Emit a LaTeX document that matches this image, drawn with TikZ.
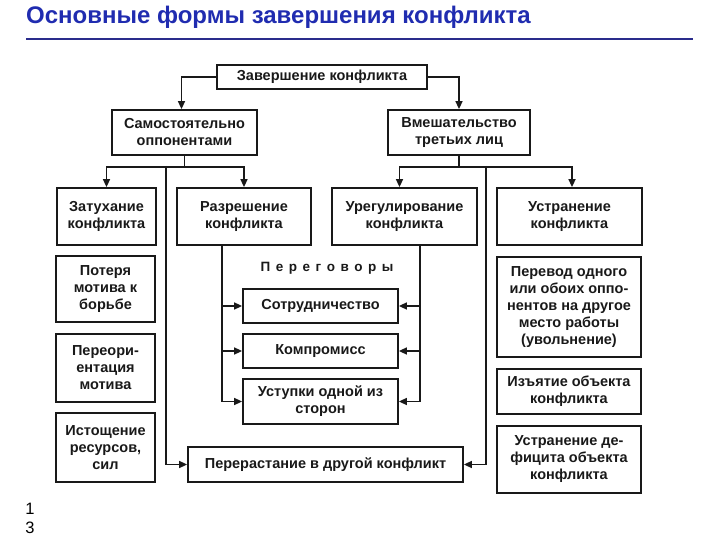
\documentclass[tikz,border=0pt]{standalone}
\usepackage{fontspec}
\setmainfont{Liberation Sans}
\usetikzlibrary{arrows.meta,calc}
\definecolor{titleblue}{RGB}{32,44,176}
\definecolor{ruleblue}{RGB}{42,44,140}
\definecolor{ink}{RGB}{25,25,25}
\tikzset{
  box/.style={draw=ink, line width=1.8pt, align=center, inner sep=1pt,
    font=\bfseries\fontsize{14.5}{17}\selectfont, text=ink},
  conn/.style={draw=ink, line width=1.6pt},
  arr/.style={conn, -{Triangle[length=8pt,width=7pt]}},
}
\begin{document}
\begin{tikzpicture}[x=1pt,y=-1pt]
\useasboundingbox (0,0) rectangle (720,540);
% title
\node[anchor=base west, inner sep=0pt, text=titleblue,
  font=\bfseries\fontsize{24}{28}\selectfont] (title) at (26,24) {Основные формы завершения конфликта};
\draw[ruleblue, line width=2.5pt] (26,39) coordinate (r1) -- (693,39) coordinate (r2);
% boxes
\node[box, minimum width=210pt, minimum height=24pt] (top) at (322,77) {Завершение конфликта};
\node[box, minimum width=145pt, minimum height=45pt] (sam) at (184.5,132.5) {Самостоятельно\\оппонентами};
\node[box, minimum width=142pt, minimum height=45pt] (vme) at (459,132.5) {Вмешательство\\третьих лиц};
\node[box, minimum width=99pt, minimum height=57pt] (zat) at (106.5,216.5) {Затухание\\конфликта};
\node[box, minimum width=134pt, minimum height=57pt] (raz) at (244,216.5) {Разрешение\\конфликта};
\node[box, minimum width=145pt, minimum height=57pt] (ure) at (404.5,216.5) {Урегулирование\\конфликта};
\node[box, minimum width=145pt, minimum height=57pt] (ust) at (569.5,216.5) {Устранение\\конфликта};
\node[box, minimum width=99pt, minimum height=66pt] (pot) at (105.5,289) {Потеря\\мотива к\\борьбе};
\node[box, minimum width=99pt, minimum height=68pt] (per) at (105.5,368) {Переори-\\ентация\\мотива};
\node[box, minimum width=99pt, minimum height=69pt] (ist) at (105.5,447.5) {Истощение\\ресурсов,\\сил};
\node[box, minimum width=155pt, minimum height=34pt] (sot) at (320.5,306) {Сотрудничество};
\node[box, minimum width=155pt, minimum height=34pt] (kom) at (320.5,351) {Компромисс};
\node[box, minimum width=155pt, minimum height=45pt] (usu) at (320.5,401.5) {Уступки одной из\\сторон};
\node[box, minimum width=275pt, minimum height=35pt] (prr) at (325.5,464.5) {Перерастание в другой конфликт};
\node[box, minimum width=144pt, minimum height=100pt] (pev) at (569,307) {Перевод одного\\или обоих оппо-\\нентов на другое\\место работы\\(увольнение)};
\node[box, minimum width=144pt, minimum height=45pt] (izy) at (569,391.5) {Изъятие объекта\\конфликта};
\node[box, minimum width=144pt, minimum height=67pt] (ude) at (569,459.5) {Устранение де-\\фицита объекта\\конфликта};
% label
\node[text=ink, font=\bfseries\fontsize{13.5}{15}\selectfont] (neg) at (327,268) {П\hspace{5.5pt}е\hspace{5.5pt}р\hspace{5.5pt}е\hspace{5.5pt}г\hspace{5.5pt}о\hspace{5.5pt}в\hspace{5.5pt}о\hspace{5.5pt}р\hspace{5.5pt}ы};
% page number
\node[align=center, inner sep=0pt, font=\fontsize{16.5}{19}\selectfont] (pn) at (30,518) {1\\3};
% connectors
\draw[arr] (top.west) -| ($(sam.north)+(-3,0)$);
\draw[arr] (top.east) -| (vme.north);
\coordinate (js) at ($(sam.south)+(0,11)$);
\draw[conn] (sam.south) -- (js);
\draw[arr] (js) -| (zat.north);
\draw[arr] (js) -| (raz.north);
\coordinate (jl) at (166,166);
\draw[arr] (jl) |- (prr.west);
\coordinate (jr) at ($(vme.south)+(0,11)$);
\draw[conn] (vme.south) -- (jr);
\draw[arr] (jr) -| ($(ure.north)+(-5,0)$);
\draw[arr] (jr) -| ($(ust.north)+(2.5,0)$);
\coordinate (jr2) at (486,166);
\draw[arr] (jr2) |- (prr.east);
\coordinate (rb) at ($(raz.south)+(-22,0)$);
\draw[arr] (rb) |- (sot.west);
\draw[arr] (rb) |- (kom.west);
\draw[arr] (rb) |- (usu.west);
\coordinate (ub) at ($(ure.south)+(15.5,0)$);
\draw[arr] (ub) |- (sot.east);
\draw[arr] (ub) |- (kom.east);
\draw[arr] (ub) |- (usu.east);
\end{tikzpicture}
\end{document}
